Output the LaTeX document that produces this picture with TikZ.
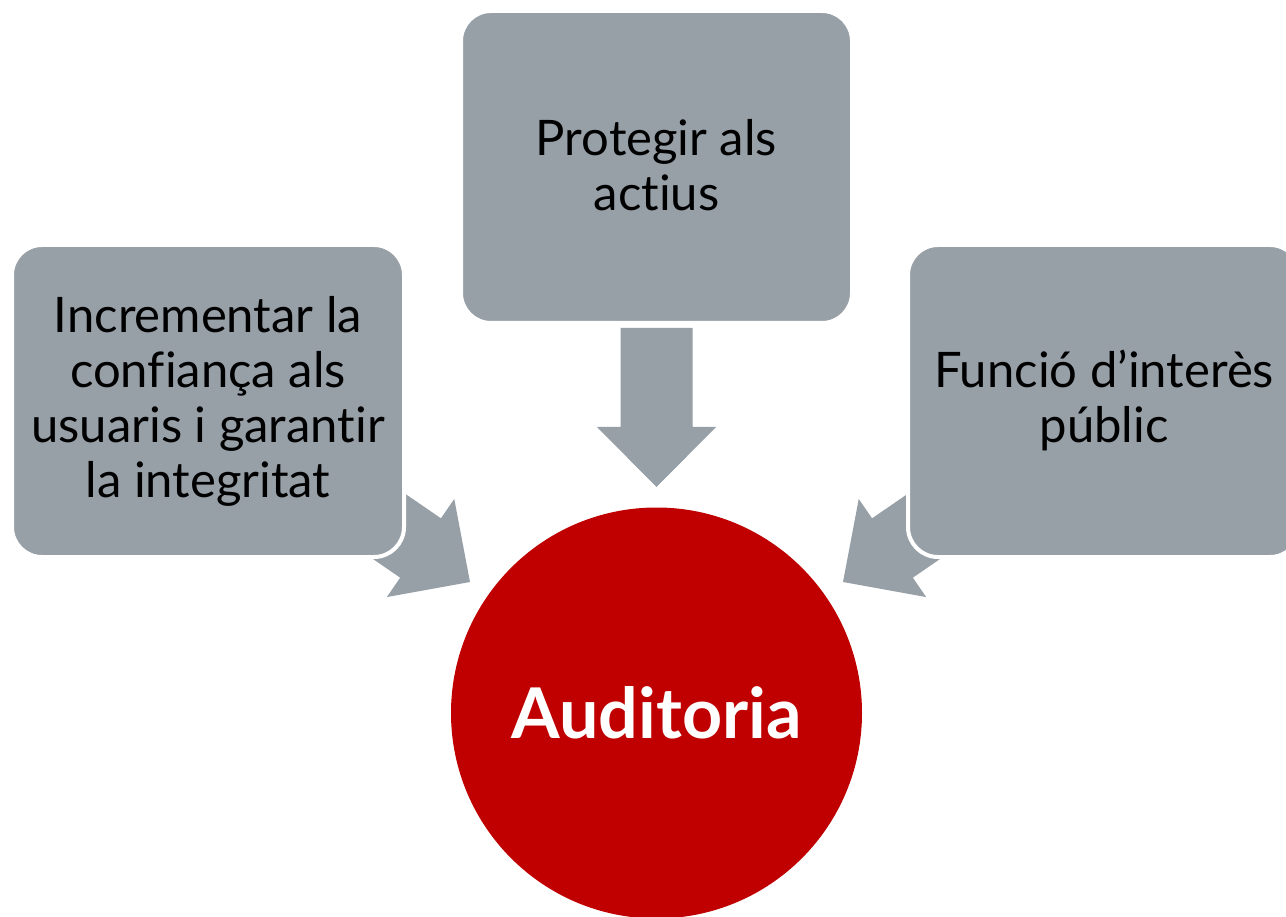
\documentclass[tikz,border=0pt]{standalone}
\usepackage{fontspec}
\setmainfont{Lato}[Ligatures=NoCommon]
\definecolor{boxgray}{RGB}{151,159,167}
\definecolor{audred}{RGB}{192,0,0}
\tikzset{
  x=1pt, y=-1pt,
  goalbox/.style={rounded corners=30pt, fill=boxgray, draw=white, line width=4pt},
  goaltext/.style={align=center, font=\fontsize{49}{55}\selectfont, text=black},
  blockarrow/.style={fill=boxgray},
}
\newcommand{\blockarrowshape}{(-159,-36) -- (-60,-36) -- (-60,-59.5) -- (0,0) -- (-60,59.5) -- (-60,36) -- (-159,36) -- cycle}
\begin{document}
\begin{tikzpicture}
\clip (0,0) rectangle (1286,917);
\fill[white] (0,0) rectangle (1286,917);
% arrow tips
\coordinate (tipL) at (470,582);
\coordinate (tipT) at (656.5,487);
\coordinate (tipR) at (843,582);
% block arrows
\begin{scope}[shift={(tipL)}, rotate=-34.5]
  \fill[blockarrow] \blockarrowshape;
\end{scope}
\begin{scope}[shift={(tipR)}, rotate=-145.5]
  \fill[blockarrow] \blockarrowshape;
\end{scope}
\begin{scope}[shift={(tipT)}, rotate=-90]
  \fill[blockarrow] \blockarrowshape;
\end{scope}
% boxes
\path[goalbox] (461,11) rectangle (852,323);
\path[goalbox] (12,245) rectangle (404,557);
\path[goalbox] (908,245) rectangle (1300,557);
\node[goaltext] (top) at (656.5,165) {Protegir als\\actius};
\node[goaltext] (left) at (208,401) {Incrementar la\\confiança als\\usuaris i garantir\\la integritat};
\node[goaltext] (right) at (1104,400) {Funció d’interès\\públic};
% circle
\node[circle, fill=audred, minimum size=411pt, inner sep=0pt, text=white,
      font=\fontsize{70}{78}\selectfont\bfseries] (aud) at (656.5,713) {Auditoria};
\end{tikzpicture}
\end{document}
